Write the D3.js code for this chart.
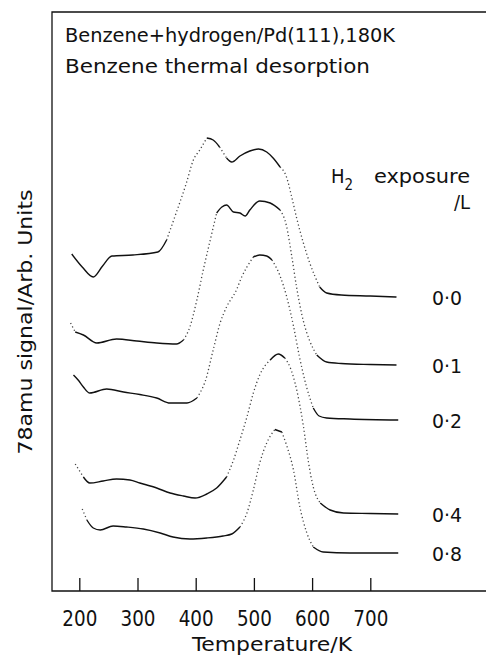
<!DOCTYPE html>
<html>
<head>
<meta charset="utf-8">
<script src="https://cdn.jsdelivr.net/npm/d3@7"></script>
<style>
  html, body { margin: 0; padding: 0; background: #fff; }
  svg { display: block; }
  text { font-family: "DejaVu Sans Condensed", "DejaVu Sans", sans-serif; fill: #111; }
</style>
</head>
<body>
<div id="chart"></div>
<script>
// ---- data (temperature in K, signal in arbitrary units, curves offset vertically) ----
const exposures = ["0·0", "0·1", "0·2", "0·4", "0·8"];
const xTicks = [200, 300, 400, 500, 600, 700];

const temps00 = [187, 205, 224, 240, 256, 292, 335, 350, 367, 384, 396, 407, 419, 430, 441, 453, 462, 476, 493, 508, 522, 533, 545, 556, 565, 573, 585, 596, 613, 625, 650, 700, 745];
const signal00 = [33.7, 32.4, 31.4, 32.5, 33.5, 33.6, 33.9, 35.1, 37.9, 40.8, 43.1, 44.1, 45.3, 45.1, 44.4, 43.3, 42.9, 43.5, 44.0, 44.2, 43.9, 43.3, 42.4, 41.4, 39.4, 37.4, 34.8, 32.8, 30.4, 29.8, 29.6, 29.5, 29.4];

const temps01 = [185, 193, 207, 230, 264, 299, 333, 367, 379, 390, 402, 413, 425, 436, 445, 453, 465, 476, 485, 493, 510, 528, 545, 556, 565, 573, 585, 596, 608, 625, 650, 700, 745];
const signal01 = [26.8, 25.9, 25.6, 24.8, 25.2, 25.0, 24.8, 24.7, 25.1, 26.4, 29.1, 32.1, 35.1, 37.8, 38.4, 38.6, 37.9, 37.8, 37.5, 38.1, 39.0, 38.8, 38.1, 36.5, 33.5, 30.5, 27.0, 25.0, 23.6, 22.9, 22.75, 22.65, 22.6];

const temps02 = [190, 198, 207, 218, 247, 276, 304, 333, 356, 385, 402, 410, 416, 430, 442, 453, 470, 479, 488, 499, 510, 522, 531, 545, 556, 568, 578, 590, 602, 612, 625, 665, 748];
const signal02 = [21.6, 21.1, 20.4, 19.8, 20.2, 19.9, 19.65, 19.3, 18.8, 18.8, 19.3, 20.1, 20.9, 24.1, 26.8, 28.4, 30.1, 31.4, 32.4, 33.4, 33.6, 33.5, 33.1, 31.5, 29.5, 26.5, 23.5, 20.5, 18.3, 17.5, 17.3, 17.2, 17.1];

const temps04 = [193, 207, 218, 241, 264, 287, 304, 333, 356, 379, 399, 419, 436, 453, 465, 476, 488, 499, 510, 528, 542, 553, 562, 574, 585, 594, 602, 614, 631, 654, 700, 748];
const signal04 = [12.7, 11.4, 10.8, 11.0, 11.2, 11.1, 10.8, 10.3, 9.8, 9.5, 9.3, 9.7, 10.3, 11.4, 13.1, 15.1, 17.4, 19.8, 21.6, 23.1, 23.7, 23.3, 22.4, 20.0, 16.5, 12.8, 10.4, 8.8, 8.1, 7.8, 7.75, 7.7];

const temps08 = [205, 213, 224, 236, 258, 281, 310, 339, 361, 390, 419, 447, 462, 476, 488, 499, 510, 522, 536, 548, 556, 568, 579, 591, 602, 619, 665, 748];
const signal08 = [8.2, 7.1, 6.3, 6.1, 6.5, 6.4, 6.2, 5.8, 5.4, 5.2, 5.3, 5.5, 5.7, 6.4, 7.8, 10.1, 12.8, 14.8, 16.15, 15.9, 14.6, 12.1, 8.4, 5.8, 4.4, 3.9, 3.8, 3.8];

const series = [
  { label: exposures[0], t: temps00, s: signal00 },
  { label: exposures[1], t: temps01, s: signal01 },
  { label: exposures[2], t: temps02, s: signal02 },
  { label: exposures[3], t: temps04, s: signal04 },
  { label: exposures[4], t: temps08, s: signal08 }
];

// ---- layout ----
const W = 486, H = 657;
const frame = { left: 52, right: 486, top: 12, bottom: 591 };

const svg = d3.select("#chart").append("svg").attr("width", W).attr("height", H);

const x = d3.scaleLinear().domain([200, 700]).range([79.3, 370.3]);
const y = d3.scaleLinear().domain([0, 57.9]).range([frame.bottom, frame.top]);

// frame lines (left, top, bottom)
svg.append("path")
  .attr("d", `M${frame.right},${frame.top}H${frame.left}V${frame.bottom}H${frame.right}`)
  .attr("fill", "none").attr("stroke", "#111").attr("stroke-width", 1.3);

// x axis ticks (inward)
const xAxis = d3.axisBottom(x).tickValues(xTicks).tickSizeInner(-13).tickSizeOuter(0).tickPadding(20)
  .tickFormat(d3.format("d"));
const gx = svg.append("g").attr("transform", `translate(0,${frame.bottom})`).call(xAxis);
gx.select(".domain").remove();
gx.selectAll(".tick line").attr("stroke", "#111").attr("stroke-width", 1.3);
gx.selectAll(".tick text").attr("font-size", 21).attr("fill", "#111")
  .attr("font-family", "DejaVu Sans Condensed, DejaVu Sans, sans-serif")
  .attr("textLength", 35).attr("lengthAdjust", "spacingAndGlyphs");

// axis titles
svg.append("text").attr("x", 272).attr("y", 651).attr("text-anchor", "middle")
  .attr("font-size", 20).attr("textLength", 160).attr("lengthAdjust", "spacingAndGlyphs")
  .text("Temperature/K");

svg.append("text").attr("transform", "translate(32,322) rotate(-90)").attr("text-anchor", "middle")
  .attr("font-size", 20).attr("textLength", 265).attr("lengthAdjust", "spacingAndGlyphs")
  .text("78amu signal/Arb. Units");

// titles
svg.append("text").attr("x", 65).attr("y", 42).attr("font-size", 20)
  .attr("textLength", 330).attr("lengthAdjust", "spacingAndGlyphs")
  .text("Benzene+hydrogen/Pd(111),180K");
svg.append("text").attr("x", 65).attr("y", 73).attr("font-size", 20)
  .attr("textLength", 305).attr("lengthAdjust", "spacingAndGlyphs")
  .text("Benzene thermal desorption");

// legend heading
const h = svg.append("text").attr("x", 331).attr("y", 183).attr("font-size", 20);
h.append("tspan").text("H");
h.append("tspan").attr("font-size", 15).attr("dy", 7).text("2");
svg.append("text").attr("x", 374).attr("y", 183).attr("font-size", 20)
  .attr("textLength", 96).attr("lengthAdjust", "spacingAndGlyphs").text("exposure");
svg.append("text").attr("x", 470).attr("y", 209).attr("font-size", 20).attr("text-anchor", "end")
  .text("/L");

// curves
const line = d3.line().x(d => x(d[0])).y(d => y(d[1])).curve(d3.curveMonotoneX);
const g = svg.append("g");
series.forEach(sr => {
  const pts = sr.t.map((t, i) => [t, sr.s[i]]);
  // split into runs of flat (solid) and steep (dotted) segments
  let runs = [];
  let cur = null;
  for (let i = 0; i < pts.length - 1; i++) {
    const dx = x(pts[i + 1][0]) - x(pts[i][0]);
    const dy = y(pts[i + 1][1]) - y(pts[i][1]);
    const steep = Math.abs(dy / dx) > 1.4;
    if (!cur || cur.steep !== steep) {
      cur = { steep, pts: [pts[i]] };
      runs.push(cur);
    }
    cur.pts.push(pts[i + 1]);
  }
  runs.forEach(r => {
    g.append("path").attr("d", line(r.pts)).attr("fill", "none")
      .attr("stroke", r.steep ? "#444" : "#111")
      .attr("stroke-width", r.steep ? 1.3 : 1.4)
      .attr("stroke-dasharray", r.steep ? "1.2,2.6" : null)
      .attr("stroke-linejoin", "round");
  });
  const last = pts[pts.length - 1];
  svg.append("text").attr("x", 432).attr("y", y(last[1]) + 8).attr("font-size", 20)
    .attr("textLength", 30).attr("lengthAdjust", "spacingAndGlyphs")
    .text(sr.label);
});
</script>
</body>
</html>
